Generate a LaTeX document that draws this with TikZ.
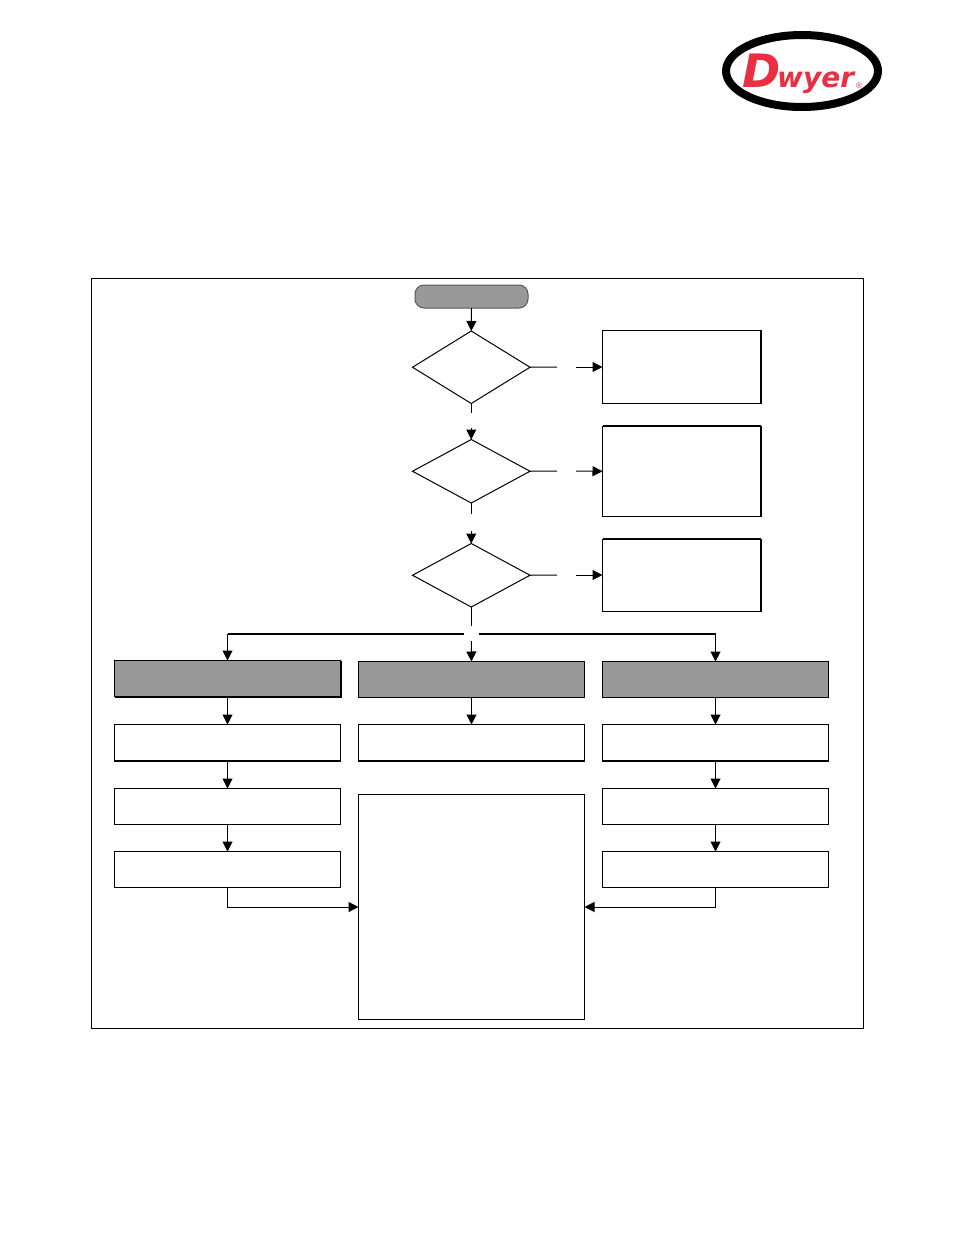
\documentclass[tikz,border=0pt]{standalone}
\usepackage{fontspec}
\setmainfont{Liberation Sans}
\newfontfamily\logofont{DejaVu Sans}
\usetikzlibrary{arrows.meta,shapes.geometric}
\definecolor{flowgray}{RGB}{153,153,153}
\definecolor{logored}{RGB}{232,48,66}
\tikzset{
  x=1pt,y=-1pt,
  flowline/.style={line width=1pt,draw=black},
  arrowline/.style={flowline,-{Triangle[length=10pt,width=10pt]}},
  thickbus/.style={line width=2pt,draw=black},
  boxnode/.style={draw=black,fill=white,line width=1pt,inner sep=0pt,outer sep=0pt},
  graybox/.style={boxnode,fill=flowgray,minimum width=226pt,minimum height=36pt},
  stepbox/.style={boxnode,minimum width=226pt,minimum height=36pt},
  sidebox/.style={boxnode,minimum width=158.5pt},
  decision/.style={diamond,draw=black,fill=white,line width=1pt,inner sep=0pt,outer sep=0pt,minimum width=117.5pt},
  heavy/.style={line width=2pt,draw=black}
}
\begin{document}
\begin{tikzpicture}
\useasboundingbox (0,0) rectangle (954,1235);
\node[draw=black,line width=1pt,inner sep=0pt,minimum width=772pt,minimum height=750pt] (frame) at (477.5,653.5) {};

% logo
\node[ellipse,draw=black,fill=white,line width=8pt,inner sep=0pt,minimum width=152pt,minimum height=72pt] (logo) at (802,71) {};
\node[text=logored,inner sep=0pt,outer sep=0pt,anchor=base west] (logoT) at (742,87) {\logofont\bfseries\itshape\fontsize{46}{46}\selectfont D\kern-3pt\fontsize{28}{28}\selectfont wyer};
\node[text=logored,font=\fontsize{8}{8}\selectfont,inner sep=0pt] (logoR) at (859,86) {®};

% top of the flow
\node[boxnode,draw=black!65,fill=flowgray,rounded corners=9pt,minimum width=113pt,minimum height=23pt] (start) at (471.5,296.5) {};
\node[decision,minimum height=72.5pt] (d1) at (471.25,367.25) {};
\node[decision,minimum height=63.5pt] (d2) at (471.25,471.25) {};
\node[decision,minimum height=63.5pt] (d3) at (471.25,575.25) {};
\node[sidebox,minimum height=73pt] (s1) at (681.75,367) {};
\node[sidebox,minimum height=90.5pt] (s2) at (681.75,471.25) {};
\node[sidebox,minimum height=72pt] (s3) at (681.75,575) {};

% columns
\node[graybox] (ha) at (227.5,678.5) {};
\node[graybox,minimum height=35.5pt] (hb) at (471.5,679.25) {};
\node[graybox,minimum height=35.5pt] (hc) at (715.5,679.25) {};
\node[stepbox,minimum height=36.5pt] (a1) at (227.5,742.75) {};
\node[stepbox] (a2) at (227.5,806.5) {};
\node[stepbox] (a3) at (227.5,869.5) {};
\node[stepbox,minimum height=36.5pt] (b1) at (471.5,742.75) {};
\node[boxnode,minimum width=226pt,minimum height=225pt] (big) at (471.5,907) {};
\node[stepbox,minimum height=36.5pt] (c1) at (715.5,742.75) {};
\node[stepbox] (c2) at (715.5,806.5) {};
\node[stepbox] (c3) at (715.5,869.5) {};

% heavier box edges
\draw[heavy] (ha.south west) -- (ha.south east) -- (ha.north east);
\draw[heavy] (a1.south west) -- (a1.south east);
\draw[heavy] (b1.south west) -- (b1.south east);
\draw[heavy] (c1.south west) -- (c1.south east);
\draw[heavy] (s2.north west) -- (s2.north east);
\draw[heavy] (s3.north west) -- (s3.north east);
\draw[line width=1.5pt] (s1.north east) -- (s1.south east);
\draw[line width=1.5pt] (s2.north east) -- (s2.south east);
\draw[line width=1.5pt] (s3.north east) -- (s3.south east);

% free ends of the broken connectors
\coordinate (d1out) at (557,367);
\coordinate (s1in) at (576,367);
\coordinate (d2out) at (557,471);
\coordinate (s2in) at (576,471);
\coordinate (d3out) at (557,575);
\coordinate (s3in) at (576,575);
\coordinate (d1down) at (471.25,413);
\coordinate (d2in) at (471.25,428);
\coordinate (d2down) at (471.25,514);
\coordinate (d3in) at (471.25,531);
\coordinate (d3down) at (471.25,626);
\coordinate (hbin) at (471.25,641);
\coordinate (busL) at (464,634);
\coordinate (busR) at (479,634);
\coordinate (cornerA) at (227.5,634);
\coordinate (cornerC) at (715.5,634);
\coordinate (elbowA) at (227.5,907);
\coordinate (elbowC) at (715.5,907);

% connectors
\draw[arrowline] (start.south) -- (d1.north);
\draw[flowline] (d1.south) -- (d1down);
\draw[arrowline] (d2in) -- (d2.north);
\draw[flowline] (d2.south) -- (d2down);
\draw[arrowline] (d3in) -- (d3.north);
\draw[flowline] (d3.south) -- (d3down);
\draw[flowline] (d1.east) -- (d1out);
\draw[arrowline] (s1in) -- (s1.west);
\draw[flowline] (d2.east) -- (d2out);
\draw[arrowline] (s2in) -- (s2.west);
\draw[flowline] (d3.east) -- (d3out);
\draw[arrowline] (s3in) -- (s3.west);
\draw[thickbus] (busL) -- (cornerA);
\draw[thickbus] (busR) -- (cornerC);
\draw[arrowline] (cornerA) -- (ha.north);
\draw[arrowline] (cornerC) -- (hc.north);
\draw[arrowline] (hbin) -- (hb.north);
\draw[arrowline] (ha.south) -- (a1.north);
\draw[arrowline] (a1.south) -- (a2.north);
\draw[arrowline] (a2.south) -- (a3.north);
\draw[arrowline] (hb.south) -- (b1.north);
\draw[arrowline] (hc.south) -- (c1.north);
\draw[arrowline] (c1.south) -- (c2.north);
\draw[arrowline] (c2.south) -- (c3.north);
\draw[arrowline] (a3.south) -- (elbowA) -- (big.west);
\draw[arrowline] (c3.south) -- (elbowC) -- (big.east);
\end{tikzpicture}
\end{document}
